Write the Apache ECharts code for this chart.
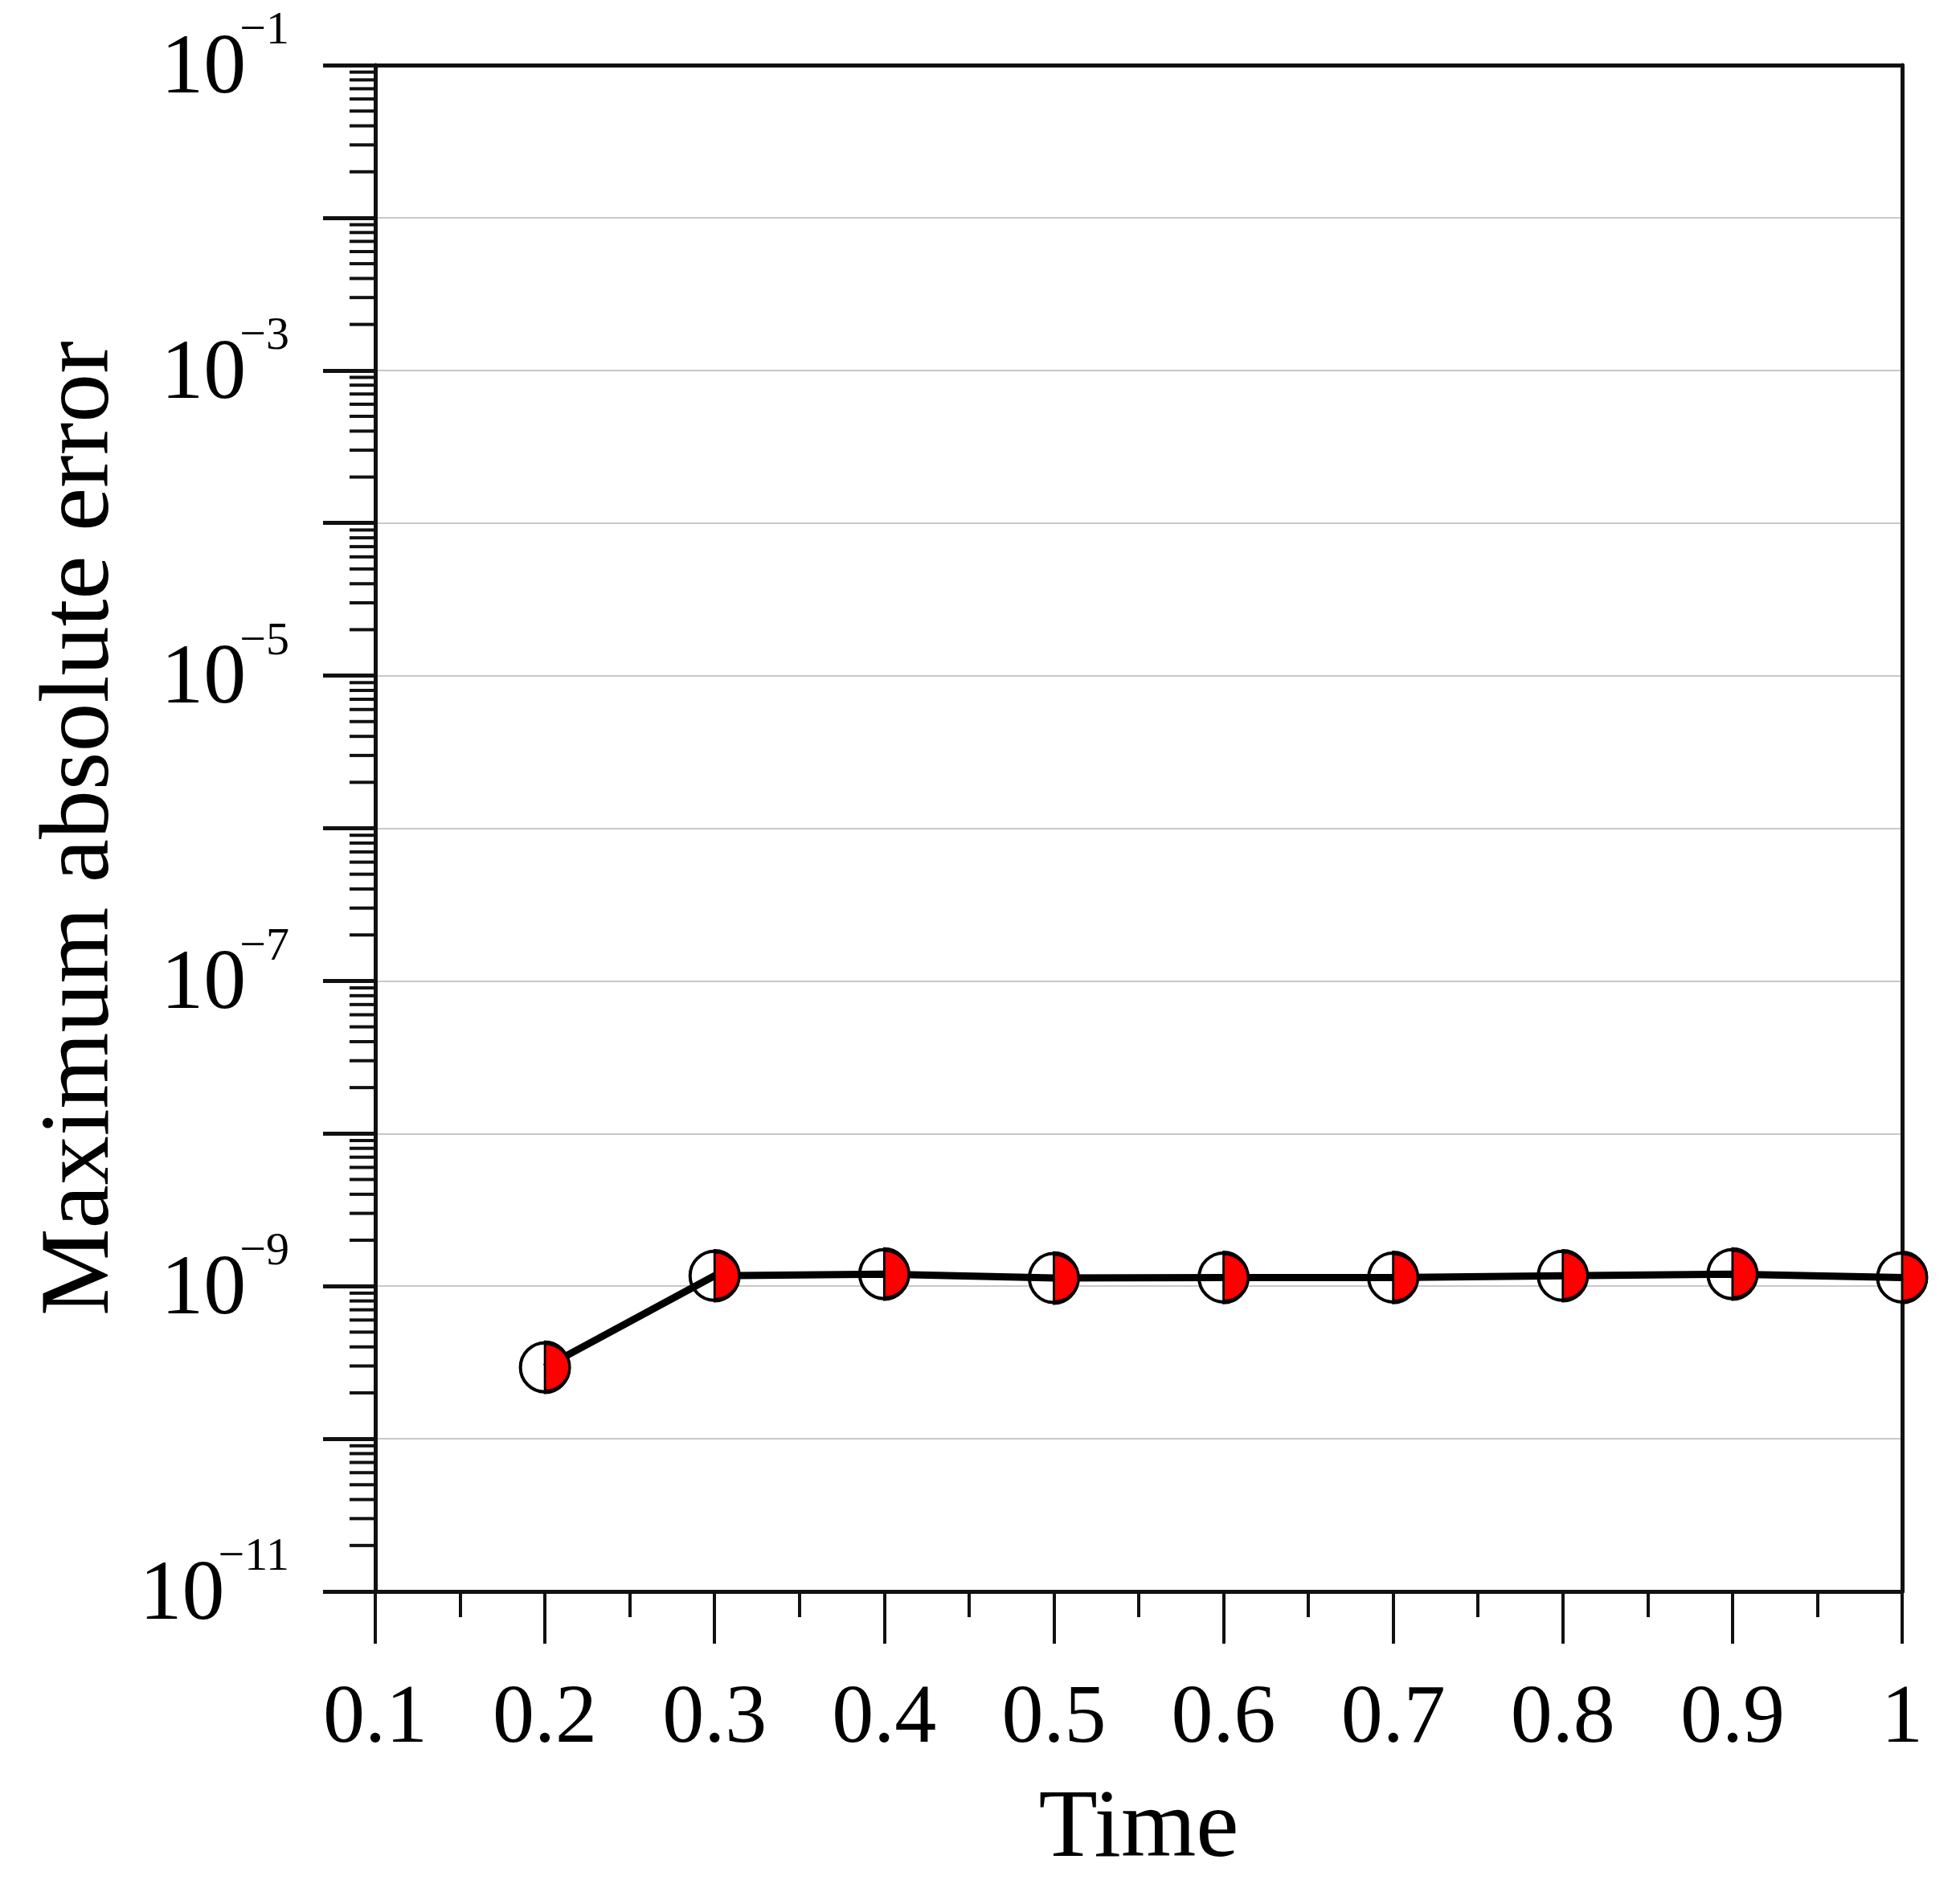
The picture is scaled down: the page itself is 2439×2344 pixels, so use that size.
<!DOCTYPE html>
<html>
<head>
<meta charset="utf-8">
<script src="https://cdn.jsdelivr.net/npm/echarts@6/dist/echarts.min.js"></script>
<style>
  html, body { margin: 0; padding: 0; background: #fff; }
  #chart { width: 2439px; height: 2344px; }
</style>
</head>
<body>
<div id="chart"></div>
<script>
// ---- data ----
const times = [0.2, 0.3, 0.4, 0.5, 0.6, 0.7, 0.8, 0.9, 1.0];
const maxAbsError = [2.94e-10, 1.17e-9, 1.20e-9, 1.13e-9, 1.14e-9, 1.14e-9, 1.17e-9, 1.20e-9, 1.14e-9];
const xTickLabels = ['0.1', '0.2', '0.3', '0.4', '0.5', '0.6', '0.7', '0.8', '0.9', '1'];
const yLabelExponents = [-11, -9, -7, -5, -3, -1];
const xTitle = 'Time';
const yTitle = 'Maximum absolute error';

// log minor tick values (2..9 x 10^n)
const minorTickValues = [];
for (let e = -11; e <= -2; e++) {
  for (let m = 2; m <= 9; m++) minorTickValues.push(m * Math.pow(10, e));
}

const FONT = '"Liberation Serif", "Times New Roman", serif';
const AXIS_COLOR = '#111';
const points = times.map((t, i) => [t, maxAbsError[i]]);

const chart = echarts.init(document.getElementById('chart'), null, { renderer: 'canvas' });
chart.setOption({
  animation: false,
  backgroundColor: '#ffffff',
  grid: {
    left: 467, right: 72, top: 81, bottom: 364,
    show: false,
    outerBoundsMode: 'none'
  },
  xAxis: [
    {
      type: 'value',
      min: 0.1, max: 1, interval: 0.1,
      name: xTitle,
      nameLocation: 'middle',
      nameGap: 237,
      nameTextStyle: { fontFamily: FONT, fontSize: 120, color: '#000' },
      axisLine: { show: true, onZero: false, lineStyle: { color: AXIS_COLOR, width: 5 } },
      axisTick: { show: true, inside: false, length: 65, lineStyle: { color: AXIS_COLOR, width: 4 } },
      minorTick: { show: true, splitNumber: 2, length: 32, lineStyle: { color: AXIS_COLOR, width: 4 } },
      splitLine: { show: false },
      axisLabel: {
        margin: 108,
        fontFamily: FONT, fontSize: 104, color: '#000',
        formatter: function (v) {
          const i = Math.round((v - 0.1) / 0.1);
          return xTickLabels[i] !== undefined ? xTickLabels[i] : '';
        }
      }
    },
    {
      type: 'value', position: 'top', min: 0.1, max: 1,
      axisLine: { show: true, onZero: false, lineStyle: { color: AXIS_COLOR, width: 5 } },
      axisTick: { show: false }, axisLabel: { show: false }, splitLine: { show: false }
    }
  ],
  yAxis: [
    {
      type: 'log',
      logBase: 10,
      min: 1e-11, max: 1e-1,
      interval: 1,
      splitNumber: 10,
      name: yTitle,
      nameLocation: 'middle',
      nameRotate: 90,
      nameGap: 275,
      nameTextStyle: { fontFamily: FONT, fontSize: 122, color: '#000' },
      axisLine: { show: true, onZero: false, lineStyle: { color: AXIS_COLOR, width: 5 } },
      axisTick: { show: true, inside: false, length: 65, lineStyle: { color: AXIS_COLOR, width: 5 } },
      splitLine: { show: true, lineStyle: { color: '#c8c8c8', width: 2 } },
      axisLabel: {
        margin: 107,
        fontFamily: FONT, color: '#000',
        formatter: function (v) {
          const e = Math.round(Math.log10(v));
          if (yLabelExponents.indexOf(e) < 0) return '';
          return '{b|10}{s|\u2212' + Math.abs(e) + '}';
        },
        rich: {
          b: { fontFamily: FONT, fontSize: 106, lineHeight: 106, padding: [12, 0, 0, 0], color: '#000' },
          s: { fontFamily: FONT, fontSize: 58, lineHeight: 58, padding: [0, 0, 84, -8], color: '#000' }
        }
      }
    },
    {
      type: 'value', position: 'right', min: 0, max: 1,
      axisLine: { show: true, onZero: false, lineStyle: { color: AXIS_COLOR, width: 5 } },
      axisTick: { show: false }, axisLabel: { show: false }, splitLine: { show: false }
    }
  ],
  series: [
    {
      // log-scale minor ticks on the y axis
      type: 'custom',
      silent: true,
      clip: false,
      z: 1,
      data: minorTickValues.map(v => [0.1, v]),
      encode: { x: 0, y: 1 },
      renderItem: function (params, api) {
        const p = api.coord([api.value(0), api.value(1)]);
        return {
          type: 'line',
          shape: { x1: p[0] - 32, y1: p[1], x2: p[0], y2: p[1] },
          style: { stroke: AXIS_COLOR, lineWidth: 4 }
        };
      }
    },
    {
      type: 'scatter',
      data: points,
      symbol: 'circle',
      symbolSize: 61,
      z: 2,
      itemStyle: { color: '#ffffff', borderColor: '#000', borderWidth: 4, opacity: 1 }
    },
    {
      type: 'line',
      data: points,
      symbol: 'none',
      z: 3,
      lineStyle: { color: '#000', width: 9 }
    },
    {
      type: 'scatter',
      data: points,
      symbol: 'path://M0,0 A50,50 0 0,1 0,100 Z',
      symbolSize: [30.5, 61],
      symbolOffset: [15.25, 0],
      z: 4,
      itemStyle: { color: '#ff0000', borderColor: '#000', borderWidth: 4, opacity: 1 }
    }
  ]
});
</script>
</body>
</html>
